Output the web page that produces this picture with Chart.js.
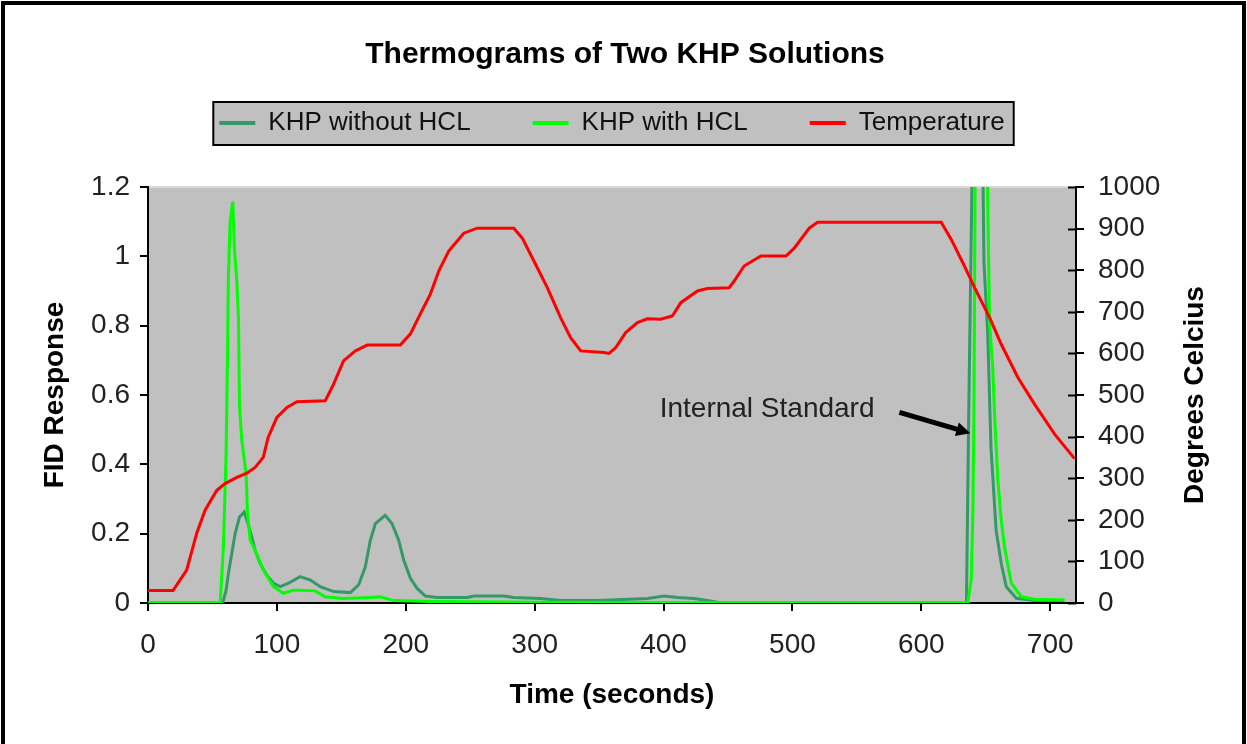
<!DOCTYPE html>
<html>
<head>
<meta charset="utf-8">
<title>Thermograms of Two KHP Solutions</title>
<script src="https://cdn.jsdelivr.net/npm/chart.js@4.4.1/dist/chart.umd.min.js"></script>
<style>
    body { margin: 0; background: #ffffff; }
    #grafico { display: block; }
</style>
</head>
<body>
<canvas id="grafico" width="1247" height="744"></canvas>
<script>
// KHP without HCL (dark green)
const tempoSemHcl = [0, 58, 60.6, 62.4, 65, 67.6, 71, 74.6, 76.7, 80.6, 83.1, 87, 92.2, 97.4, 102.6, 109, 118, 126, 133.6, 144, 157, 163.4, 168.6, 172.5, 176.4, 184, 189.3, 194.5, 198.4, 203.6, 208.8, 215.2, 224.3, 247.6, 252.8, 276, 283.8, 304.6, 320, 348.6, 387.5, 400.4, 410.8, 423.7, 434, 445, 600, 635, 636.7, 638, 640, 644, 647.6, 648.6, 651.5, 654, 658, 662, 665.9, 673.7, 687.6, 711];
const fidSemHcl = [0, 0, 0.037, 0.085, 0.143, 0.2, 0.248, 0.262, 0.239, 0.19, 0.152, 0.114, 0.08, 0.057, 0.047, 0.057, 0.076, 0.066, 0.047, 0.033, 0.03, 0.052, 0.104, 0.181, 0.229, 0.253, 0.229, 0.181, 0.124, 0.071, 0.042, 0.02, 0.016, 0.016, 0.02, 0.02, 0.016, 0.013, 0.007, 0.007, 0.013, 0.02, 0.016, 0.013, 0.007, 0, 0, 0, 0.526, 0.87, 1.4, 1.5, 1.3, 0.98, 0.78, 0.45, 0.21, 0.114, 0.047, 0.0135, 0.007, 0.007];

// KHP with HCL (bright green)
const tempoComHcl = [0, 56, 58.5, 60.6, 61.6, 62.4, 63.7, 65.8, 67, 68.9, 70.2, 71, 72.8, 76.1, 77.2, 79.3, 83.1, 89.6, 97.4, 105.1, 112.9, 118, 129.7, 137.5, 151.5, 172.5, 180.3, 190.6, 221.4, 300, 450, 600, 636, 638.7, 640, 640.8, 642, 646, 650.5, 653, 655.4, 656.8, 659.4, 662, 664.5, 669.8, 677.5, 687.8, 711];
const fidComHcl = [0, 0, 0.162, 0.43, 0.69, 0.94, 1.10, 1.158, 1.024, 0.928, 0.823, 0.564, 0.469, 0.373, 0.258, 0.181, 0.152, 0.095, 0.047, 0.028, 0.037, 0.037, 0.035, 0.018, 0.013, 0.016, 0.018, 0.007, 0.004, 0.002, 0.001, 0, 0, 0.066, 0.26, 0.55, 1.4, 1.8, 1.4, 0.805, 0.68, 0.546, 0.353, 0.239, 0.162, 0.057, 0.018, 0.011, 0.009];

// Temperature (red, right axis)
const tempoTemp = [0, 19.4, 30, 37.8, 44.3, 53.4, 59.8, 68.9, 76.7, 83.1, 89.4, 93.2, 100, 107.8, 115.5, 137.5, 144, 151.7, 160.8, 170, 195.8, 203.6, 211.3, 219, 225.6, 233.3, 245, 255.4, 283.8, 290.4, 299.4, 309.8, 320.1, 327.9, 335.7, 353.8, 357.7, 362.9, 370.6, 379.7, 387.4, 397.8, 406.8, 413.4, 426.3, 434.1, 450.9, 454.8, 462.5, 475.5, 495, 501.4, 513, 519.5, 615.4, 623.2, 632.2, 641.3, 653, 662, 674.9, 687.8, 703.4, 718.9];
const graus = [30, 30, 79, 168, 223, 271, 287, 302, 312, 326, 350, 398, 446, 470, 484, 486, 526, 582, 606, 620, 620, 647, 695, 742, 798, 846, 889, 901, 901, 877, 822, 758, 686, 638, 606, 602, 600, 614, 650, 674, 683, 682, 690, 722, 750, 756, 758, 774, 810, 834, 834, 853, 901, 915, 915, 874, 818, 758, 686, 622, 542, 478, 406, 347];

const nomesSeries = ['KHP without HCL', 'KHP with HCL', 'Temperature'];
const coresSeries = ['#339966', '#00ff00', '#ff0000'];
const tituloDireita = 'Degrees Celcius';

// annotation (in data units of x / left y axis)
const nota = { texto: 'Internal Standard', x: 397, y: 0.56, setaDe: [583, 0.55], setaAte: [638, 0.49] };

function pontos(xs, ys) {
    return xs.map(function (x, i) { return { x: x, y: ys[i] }; });
}

const fonte = "'Liberation Sans', Arial, sans-serif";

// gray plot area, legend frame, page border, annotation, right axis title
const extras = {
    id: 'extras',
    beforeDraw: function (chart) {
        const ctx = chart.ctx;
        const a = chart.chartArea;
        ctx.save();
        ctx.fillStyle = '#c0c0c0';
        ctx.fillRect(a.left, a.top, a.right - a.left, a.bottom - a.top);
        ctx.strokeStyle = '#d8d8d8';
        ctx.lineWidth = 2;
        ctx.beginPath();
        ctx.moveTo(a.left, a.top);
        ctx.lineTo(a.right, a.top);
        ctx.stroke();

        const caixas = chart.legend.legendHitBoxes;
        if (caixas && caixas.length) {
            var ult = caixas[caixas.length - 1];
            var esq = caixas[0].left - 6;
            var dir = ult.left + ult.width + 9;
            var topo = caixas[0].top - 8;
            var base = caixas[0].top + caixas[0].height + 9;
            ctx.fillStyle = '#c0c0c0';
            ctx.fillRect(esq, topo, dir - esq, base - topo);
            ctx.strokeStyle = '#000000';
            ctx.lineWidth = 2;
            ctx.strokeRect(esq, topo, dir - esq, base - topo);
        }
        ctx.restore();
    },
    afterDatasetsDraw: function (chart) {
        const ctx = chart.ctx;
        const sx = chart.scales.x;
        const sy = chart.scales.y;
        const sy1 = chart.scales.y1;
        const a = chart.chartArea;
        ctx.save();

        // right axis ticks also cross into the plot
        ctx.strokeStyle = '#000000';
        ctx.lineWidth = 2;
        sy1.ticks.forEach(function (t) {
            var py = Math.round(sy1.getPixelForValue(t.value)) + 0.5;
            ctx.beginPath();
            ctx.moveTo(a.right - 8, py);
            ctx.lineTo(a.right, py);
            ctx.stroke();
        });

        ctx.fillStyle = '#222222';
        ctx.font = '28px ' + fonte;
        ctx.textBaseline = 'middle';
        ctx.fillText(nota.texto, sx.getPixelForValue(nota.x), sy.getPixelForValue(nota.y));

        var x1 = sx.getPixelForValue(nota.setaDe[0]), y1 = sy.getPixelForValue(nota.setaDe[1]);
        var x2 = sx.getPixelForValue(nota.setaAte[0]), y2 = sy.getPixelForValue(nota.setaAte[1]);
        var ang = Math.atan2(y2 - y1, x2 - x1);
        ctx.strokeStyle = '#000000';
        ctx.lineWidth = 5;
        ctx.beginPath();
        ctx.moveTo(x1, y1);
        ctx.lineTo(x2 - 8 * Math.cos(ang), y2 - 8 * Math.sin(ang));
        ctx.stroke();
        ctx.fillStyle = '#000000';
        ctx.beginPath();
        ctx.moveTo(x2, y2);
        ctx.lineTo(x2 - 14 * Math.cos(ang) + 7 * Math.sin(ang), y2 - 14 * Math.sin(ang) - 7 * Math.cos(ang));
        ctx.lineTo(x2 - 14 * Math.cos(ang) - 7 * Math.sin(ang), y2 - 14 * Math.sin(ang) + 7 * Math.cos(ang));
        ctx.closePath();
        ctx.fill();
        ctx.restore();
    },
    afterDraw: function (chart) {
        const ctx = chart.ctx;
        const a = chart.chartArea;
        ctx.save();
        // right axis title reads bottom to top, like the left one
        ctx.translate(1195, (a.top + a.bottom) / 2);
        ctx.rotate(-Math.PI / 2);
        ctx.fillStyle = '#000000';
        ctx.font = 'bold 28px ' + fonte;
        ctx.textAlign = 'center';
        ctx.textBaseline = 'middle';
        ctx.fillText(tituloDireita, 0, 0);
        ctx.restore();

        ctx.save();
        ctx.fillStyle = '#000000';
        ctx.fillRect(1, 1, 1245, 4);
        ctx.fillRect(1, 1, 4, 743);
        ctx.fillRect(1242, 1, 4, 743);
        ctx.restore();
    }
};

const grade = { display: true, drawOnChartArea: false, drawTicks: true, tickLength: 8, color: '#000000', lineWidth: 2 };
const borda = { display: true, color: '#000000', width: 2 };

var grafico = document.getElementById('grafico');
new Chart(grafico, {
    type: 'line',
    data: {
        datasets: [{
            label: nomesSeries[0],
            data: pontos(tempoSemHcl, fidSemHcl),
            borderColor: coresSeries[0],
            backgroundColor: coresSeries[0],
            yAxisID: 'y',
            order: 3
        }, {
            label: nomesSeries[1],
            data: pontos(tempoComHcl, fidComHcl),
            borderColor: coresSeries[1],
            backgroundColor: coresSeries[1],
            yAxisID: 'y',
            order: 2
        }, {
            label: nomesSeries[2],
            data: pontos(tempoTemp, graus),
            borderColor: coresSeries[2],
            backgroundColor: coresSeries[2],
            yAxisID: 'y1',
            order: 1
        }]
    },
    options: {
        responsive: false,
        animation: false,
        devicePixelRatio: 1,
        parsing: false,
        elements: {
            point: { radius: 0 },
            line: { borderWidth: 3, tension: 0 }
        },
        layout: { padding: { top: 8, left: 34, right: 31, bottom: 28 } },
        plugins: {
            title: {
                display: true,
                text: 'Thermograms of Two KHP Solutions',
                color: '#000000',
                font: { family: fonte, size: 30, weight: 'bold', lineHeight: 1.2 },
                padding: { top: 29, bottom: -25 }
            },
            // empty spacer between legend and plot
            subtitle: {
                display: true,
                text: '',
                weight: 500,
                font: { size: 10, lineHeight: 1 },
                padding: { top: 0, bottom: 31 }
            },
            legend: {
                display: true,
                fullSize: false,
                labels: {
                    color: '#111111',
                    font: { family: fonte, size: 26 },
                    boxWidth: 36,
                    boxHeight: 4,
                    padding: 62,
                    sort: function (a, b) { return a.datasetIndex - b.datasetIndex; },
                    generateLabels: function (chart) {
                        return Chart.defaults.plugins.legend.labels.generateLabels(chart).map(function (l) {
                            l.lineWidth = 0;
                            l.fillStyle = l.strokeStyle;
                            return l;
                        });
                    }
                }
            },
            tooltip: { enabled: false }
        },
        scales: {
            x: {
                type: 'linear',
                min: 0,
                max: 720,
                grid: grade,
                border: borda,
                ticks: { color: '#222222', font: { family: fonte, size: 28 }, padding: 17, stepSize: 100, includeBounds: false },
                title: { display: true, text: 'Time (seconds)', color: '#000000', font: { family: fonte, size: 28, weight: 'bold' }, padding: { top: 4, bottom: 4 } },
                afterFit: function (s) { s.height = 113; }
            },
            y: {
                type: 'linear',
                position: 'left',
                min: 0,
                max: 1.2,
                grid: grade,
                border: borda,
                ticks: {
                    color: '#222222', font: { family: fonte, size: 28 }, padding: 10, stepSize: 0.2,
                    callback: function (v) { return String(Math.round(v * 10) / 10); }
                },
                title: { display: true, text: 'FID Response', color: '#000000', font: { family: fonte, size: 28, weight: 'bold' } },
                afterFit: function (s) { s.width = 114; }
            },
            y1: {
                type: 'linear',
                position: 'right',
                min: 0,
                max: 1000,
                grid: grade,
                border: borda,
                ticks: {
                    color: '#222222', font: { family: fonte, size: 28 }, padding: 14, stepSize: 100,
                    callback: function (v) { return String(v); }
                },
                title: { display: false },
                afterFit: function (s) { s.width = 140; }
            }
        }
    },
    plugins: [extras]
});
</script>
</body>
</html>
